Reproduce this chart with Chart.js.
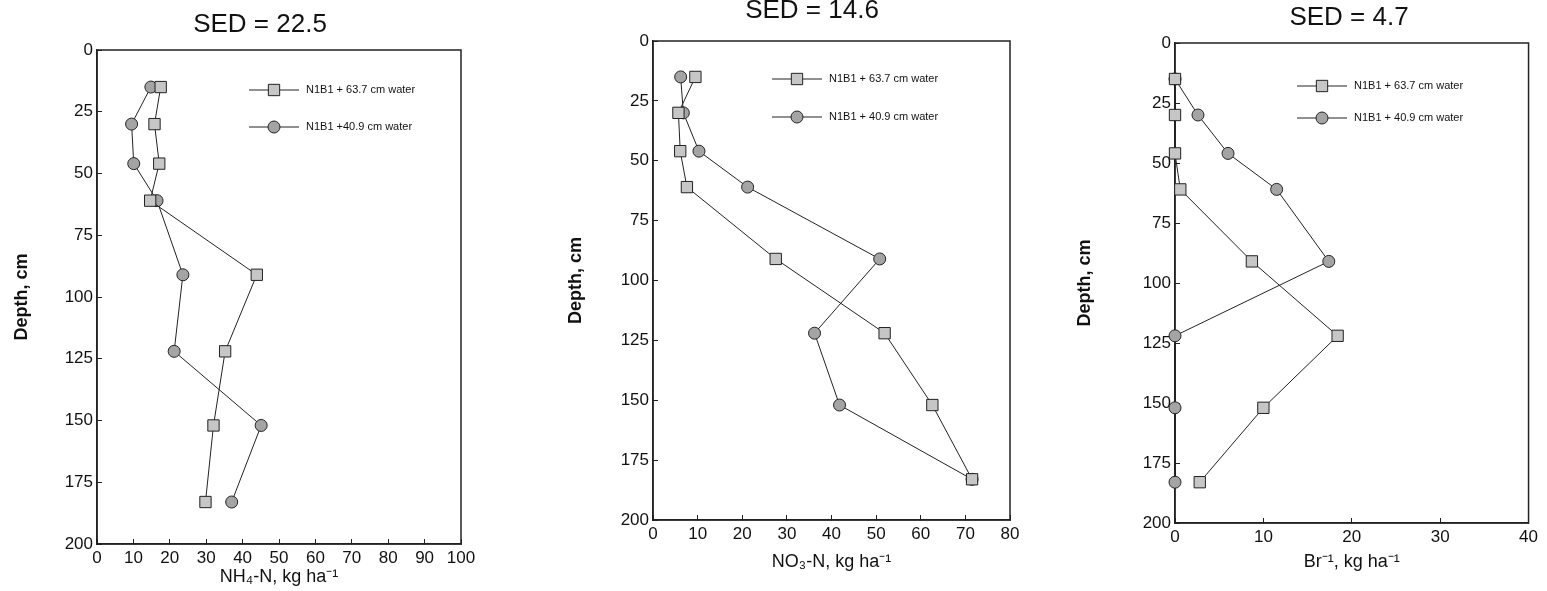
<!DOCTYPE html>
<html>
<head>
<meta charset="utf-8">
<script src="https://cdn.jsdelivr.net/npm/chart.js@4.4.1/dist/chart.umd.min.js"></script>
<style>
  body { margin: 0; background: #fff; }
  .panel { position: absolute; top: 0; height: 591px; }
  #p1 { left: 0; width: 520px; }
  #p2 { left: 555px; width: 490px; }
  #p3 { left: 1065px; width: 482px; }
</style>
</head>
<body>
<div class="panel" id="p1"><canvas id="chart-nh4"></canvas></div>
<div class="panel" id="p2"><canvas id="chart-no3"></canvas></div>
<div class="panel" id="p3"><canvas id="chart-br"></canvas></div>
<script>
// Sampling depths (cm)
const depths = [15, 30, 46, 61, 91, 122, 152, 183];
const depthTicks = [0, 25, 50, 75, 100, 125, 150, 175, 200];

const seriesLabels = ['N1B1 + 63.7 cm water', 'N1B1 + 40.9 cm water'];
const seriesLabelsNh4 = ['N1B1 + 63.7 cm water', 'N1B1 +40.9 cm water'];

// NH4-N, kg/ha
const nh4Water637 = [17.5, 15.8, 17.1, 14.6, 43.9, 35.2, 32.0, 29.8];
const nh4Water409 = [14.8, 9.5, 10.1, 16.5, 23.6, 21.2, 45.1, 37.0];
// NO3-N, kg/ha
const no3Water637 = [9.5, 5.7, 6.1, 7.6, 27.5, 51.9, 62.6, 71.5];
const no3Water409 = [6.2, 6.8, 10.3, 21.2, 50.8, 36.2, 41.8, 71.5];
// Br, kg/ha
const brWater637 = [0, 0, 0, 0.6, 8.7, 18.4, 10.0, 2.8];
const brWater409 = [0, 2.6, 6.0, 11.5, 17.4, 0, 0, 0];

const FONT = '"Liberation Sans", Arial, Helvetica, sans-serif';
const INK = '#111';

const toPoints = (vals) => vals.map((v, i) => ({ x: v, y: depths[i] }));

// box frame, title and the line+marker legend
const panelDecor = {
    id: 'panelDecor',
    beforeDatasetsDraw(chart) {
        const { ctx, chartArea: a } = chart;
        ctx.save();
        ctx.strokeStyle = '#222';
        ctx.lineWidth = 1.5;
        ctx.strokeRect(a.left, a.top, a.right - a.left, a.bottom - a.top);
        ctx.restore();
    },
    afterDraw(chart, args, opts) {
        const { ctx, chartArea: a } = chart;
        ctx.save();
        ctx.fillStyle = INK;
        ctx.font = '26px ' + FONT;
        ctx.textAlign = 'center';
        ctx.textBaseline = 'middle';
        ctx.fillText(opts.title, opts.titleX, opts.titleY);

        ctx.font = '11px ' + FONT;
        ctx.textAlign = 'left';
        chart.data.datasets.forEach((ds, i) => {
            const y = a.top + opts.legendY[i];
            const x0 = a.left + opts.legendX;
            const x1 = x0 + 50;
            ctx.strokeStyle = ds.borderColor;
            ctx.lineWidth = 1;
            ctx.beginPath();
            ctx.moveTo(x0, y);
            ctx.lineTo(x1, y);
            ctx.stroke();
            ctx.fillStyle = ds.pointBackgroundColor;
            ctx.strokeStyle = ds.pointBorderColor;
            ctx.lineWidth = 1;
            Chart.helpers.drawPoint(ctx, {
                pointStyle: ds.pointStyle, radius: ds.pointRadius, borderWidth: 1, rotation: 0
            }, (x0 + x1) / 2, y);
            ctx.fillStyle = INK;
            ctx.fillText(ds.label, x1 + 7, y);
        });
        ctx.restore();
    }
};

function makeDatasets(labels, squares, circles) {
    return [{
        label: labels[0],
        data: toPoints(squares),
        showLine: true,
        borderColor: '#222',
        borderWidth: 1,
        pointStyle: 'rect',
        pointRadius: 8,
        pointBackgroundColor: '#c6c6c6',
        pointBorderColor: '#222',
        pointBorderWidth: 1,
        clip: false
    }, {
        label: labels[1],
        data: toPoints(circles),
        showLine: true,
        borderColor: '#222',
        borderWidth: 1,
        pointStyle: 'circle',
        pointRadius: 6,
        pointBackgroundColor: '#a4a4a4',
        pointBorderColor: '#222',
        pointBorderWidth: 1,
        clip: false
    }];
}

function makeChart(id, p) {
    new Chart(document.getElementById(id), {
        type: 'scatter',
        data: { datasets: makeDatasets(p.labels, p.squares, p.circles) },
        plugins: [panelDecor],
        options: {
            responsive: true,
            maintainAspectRatio: false,
            animation: false,
            layout: { padding: { top: p.top, right: p.right, left: 0, bottom: 0 } },
            plugins: {
                legend: { display: false },
                tooltip: { enabled: false },
                panelDecor: {
                    title: p.title, titleX: p.titleX, titleY: p.titleY,
                    legendX: p.legendX, legendY: p.legendY
                }
            },
            scales: {
                x: {
                    type: 'linear',
                    position: 'bottom',
                    min: 0,
                    max: p.xMax,
                    afterBuildTicks: (s) => { s.ticks = p.xTicks.map(v => ({ value: v })); },
                    afterFit: (s) => { s.height = p.xHeight; },
                    grid: { drawOnChartArea: false, tickLength: -5, color: '#222' },
                    border: { color: '#222', width: 1.5 },
                    ticks: { color: INK, font: { family: FONT, size: 17 }, padding: 9, maxRotation: 0, autoSkip: false },
                    title: {
                        display: true, text: p.xTitle, color: INK,
                        font: { family: FONT, size: 18 }, padding: { top: 0, bottom: p.xTitlePad }
                    }
                },
                y: {
                    type: 'linear',
                    reverse: true,
                    min: 0,
                    max: 200,
                    afterBuildTicks: (s) => { s.ticks = depthTicks.map(v => ({ value: v })); },
                    afterFit: (s) => { s.width = p.yWidth; },
                    grid: { drawOnChartArea: false, tickLength: -5, color: '#222' },
                    border: { color: '#222', width: 1.5 },
                    ticks: { color: INK, font: { family: FONT, size: 17 }, padding: 9 },
                    title: {
                        display: true, text: 'Depth, cm', color: INK,
                        font: { family: FONT, size: 18, weight: 'bold' }, padding: { top: p.yTitlePad, bottom: 0 }
                    }
                }
            }
        }
    });
}

makeChart('chart-nh4', {
    labels: seriesLabelsNh4, squares: nh4Water637, circles: nh4Water409,
    title: 'SED = 22.5', titleX: 260, titleY: 25,
    xMax: 100, xTicks: [0, 10, 20, 30, 40, 50, 60, 70, 80, 90, 100],
    xTitle: 'NH\u2084-N, kg ha\u207B\u00B9',
    top: 50, right: 59, yWidth: 97, xHeight: 47, xTitlePad: 3, yTitlePad: 11,
    legendX: 152, legendY: [40, 77]
});

makeChart('chart-no3', {
    labels: seriesLabels, squares: no3Water637, circles: no3Water409,
    title: 'SED = 14.6', titleX: 257, titleY: 11,
    xMax: 80, xTicks: [0, 10, 20, 30, 40, 50, 60, 70, 80],
    xTitle: 'NO\u2083-N, kg ha\u207B\u00B9',
    top: 41, right: 35, yWidth: 98, xHeight: 71, xTitlePad: 18, yTitlePad: 10,
    legendX: 119, legendY: [38, 76]
});

makeChart('chart-br', {
    labels: seriesLabels, squares: brWater637, circles: brWater409,
    title: 'SED = 4.7', titleX: 284, titleY: 18,
    xMax: 40, xTicks: [0, 10, 20, 30, 40],
    xTitle: 'Br\u207B\u00B9, kg ha\u207B\u00B9',
    top: 43, right: 15, yWidth: 110, xHeight: 68, xTitlePad: 18, yTitlePad: 9,
    legendX: 122, legendY: [43, 75]
});
</script>
</body>
</html>
